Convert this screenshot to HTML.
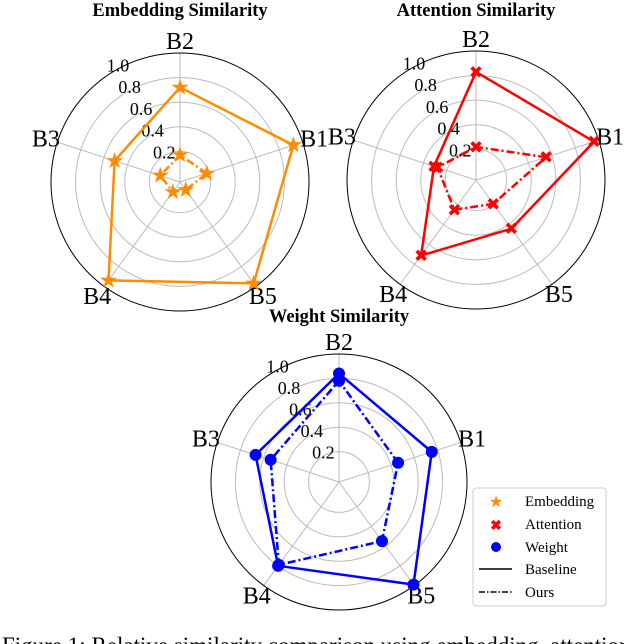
<!DOCTYPE html>
<html><head><meta charset="utf-8"><style>
html,body{margin:0;padding:0;background:#fff;overflow:hidden;}
svg{display:block;font-family:"Liberation Serif",serif;}
</style></head><body>
<svg id="fig" width="624" height="644" viewBox="0 0 624 644">
<text x="180" y="16" text-anchor="middle" font-weight="bold" font-size="18.5">Embedding Similarity</text>
<text x="476" y="16" text-anchor="middle" font-weight="bold" font-size="18.5">Attention Similarity</text>
<text x="339" y="322" text-anchor="middle" font-weight="bold" font-size="18.5">Weight Similarity</text>
<g id="charts"></g>
<g>
<rect x="473" y="488" width="133" height="118" rx="3" fill="#fff" stroke="#ccc" stroke-width="1"/>
<text x="496" y="507" text-anchor="middle" font-size="16" fill="#ff8c00">★</text>
<text x="525" y="506" font-size="15">Embedding</text>
<text x="496" y="530" text-anchor="middle" font-size="14" font-weight="bold" fill="#ff0000">✖</text>
<text x="525" y="529" font-size="15">Attention</text>
<circle cx="496" cy="547" r="5" fill="#0000ff"/>
<text x="525" y="552" font-size="15">Weight</text>
<line x1="479" y1="569" x2="512" y2="569" stroke="#000" stroke-width="1.5"/>
<text x="525" y="574" font-size="15">Baseline</text>
<line x1="479" y1="592" x2="512" y2="592" stroke="#000" stroke-width="1.5" stroke-dasharray="6,2,1.5,2"/>
<text x="525" y="597" font-size="15">Ours</text>
</g>
<text x="2" y="653" font-size="23">Figure 1: Relative similarity comparison using embedding, attention</text>
</svg>
<script>
const categories = ["B1","B2","B3","B4","B5"];
const tickValues = [0.2,0.4,0.6,0.8,1.0];
const tickLabels = ["0.2","0.4","0.6","0.8","1.0"];
const embeddingBaseline = [0.92,0.72,0.51,0.94,0.97];
const embeddingOurs = [0.18,0.17,0.12,0.05,0.03];
const attentionBaseline = [0.96,0.83,0.31,0.71,0.44];
const attentionOurs = [0.55,0.22,0.28,0.25,0.19];
const weightBaseline = [0.75,0.84,0.67,0.80,0.99];
const weightOurs = [0.46,0.78,0.54,0.79,0.55];

const NS = "http://www.w3.org/2000/svg";
const root = document.getElementById("charts");
function mk(tag, attrs, parent){
  const e = document.createElementNS(NS, tag);
  for (const k in attrs) e.setAttribute(k, attrs[k]);
  parent.appendChild(e);
  return e;
}
function drawChart(cx, cy, R, name, color, marker, base, ours){
  const g = mk("g", {}, root);
  
  
  const off = R*0.047;
  const rs = v => off + (R - off) * v;
  const ang = i => (18 + 72*i) * Math.PI/180;
  const pt = (i, v) => [cx + rs(v)*Math.cos(ang(i)), cy - rs(v)*Math.sin(ang(i))];
  tickValues.slice(0,4).forEach(v => {
    const c = mk("circle", {cx:cx, cy:cy, r:rs(v), fill:"none", stroke:"#bbb", "stroke-width":1}, g);
    
    
  });
  categories.forEach((c, i) => {
    const p = pt(i, 1.0);
    const l = mk("line", {x1:cx, y1:cy, x2:p[0], y2:p[1], stroke:"#bbb", "stroke-width":1}, g);
    
    
  });
  const outer = mk("circle", {cx:cx, cy:cy, r:R, fill:"none", stroke:"#000", "stroke-width":1}, g);
  
  
  tickValues.forEach((v, k) => {
    const a = 118 * Math.PI/180, r = rs(v) + 3;
    const t = mk("text", {x:cx + r*Math.cos(a), y:cy - r*Math.sin(a) + 6, "text-anchor":"middle", "font-size":18}, g);
    t.textContent = tickLabels[k];
    
    
  });
  categories.forEach((c, i) => {
    const r = R + 12;
    const t = mk("text", {x:cx + r*Math.cos(ang(i)), y:cy - r*Math.sin(ang(i)) + 8, "text-anchor":"middle", "font-size":24}, g);
    t.textContent = c;
    
    
  });
  [[base, null, "baseline"], [ours, "8,3,2,3", "ours"]].forEach(([vals, dash, kind]) => {
    const pts = vals.map((v, i) => pt(i, v));
    const poly = mk("polygon", {points: pts.map(p => p.join(",")).join(" "), fill:"none", stroke:color, "stroke-width":2.5}, g);
    if (dash) poly.setAttribute("stroke-dasharray", dash);
    
    
    pts.forEach(p => {
      let m;
      if (marker === "circle") {
        m = mk("circle", {cx:p[0], cy:p[1], r:6, fill:color}, g);
      } else if (marker === "star") {
        m = mk("text", {x:p[0], y:p[1] + 7, "text-anchor":"middle", "font-size":22, fill:color, "font-family":"DejaVu Sans"}, g);
        m.textContent = "★";
      } else {
        m = mk("text", {x:p[0], y:p[1] + 6, "text-anchor":"middle", "font-size":17, "font-weight":"bold", fill:color, "font-family":"DejaVu Sans"}, g);
        m.textContent = "✖";
      }
      
      
    });
  });
}
drawChart(180, 182, 129, "embedding", "#ff8c00", "star", embeddingBaseline, embeddingOurs);
drawChart(476, 180, 129, "attention", "#ff0000", "x", attentionBaseline, attentionOurs);
drawChart(339, 482, 128, "weight", "#0000ff", "circle", weightBaseline, weightOurs);
</script>
</body></html>
